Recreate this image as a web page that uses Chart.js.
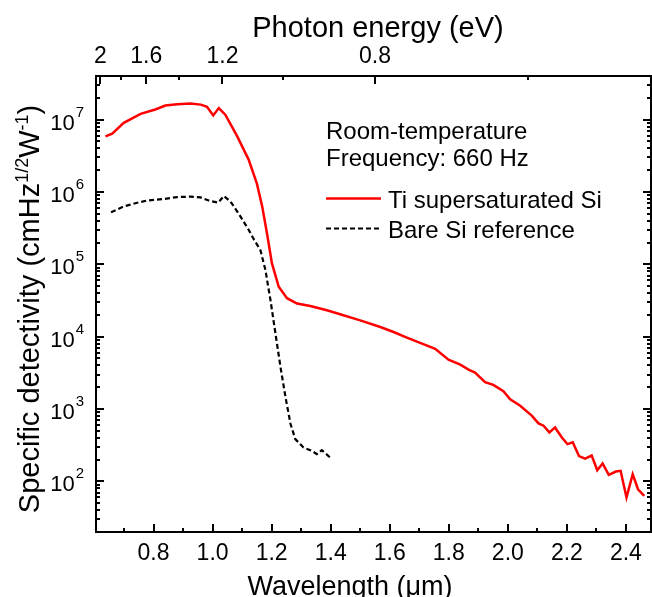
<!DOCTYPE html>
<html>
<head>
<meta charset="utf-8">
<script src="https://cdn.jsdelivr.net/npm/chart.js@4.4.1/dist/chart.umd.min.js"></script>
<style>
  html, body { margin: 0; padding: 0; background: #fff; }
  canvas { display: block; }
</style>
</head>
<body>
<canvas id="detChart" width="652" height="597"></canvas>
<script>
// Ti supersaturated Si (red, solid)
const tiWavelength = [0.637, 0.66, 0.699, 0.756, 0.806, 0.84, 0.88, 0.925, 0.96, 0.981, 1.002, 1.021, 1.043,
  1.083, 1.122, 1.15, 1.168, 1.184, 1.201, 1.224, 1.252, 1.286, 1.331, 1.387, 1.432, 1.5, 1.568, 1.613,
  1.658, 1.703, 1.754, 1.799, 1.839, 1.867, 1.889, 1.923, 1.951, 1.985, 2.008, 2.042, 2.081, 2.104,
  2.121, 2.141, 2.16, 2.183, 2.202, 2.22, 2.241, 2.262, 2.284, 2.303, 2.321, 2.342, 2.366, 2.382,
  2.402, 2.423, 2.441, 2.462];
const tiDetectivity = [5.87e6, 6.4e6, 9.0e6, 1.2e7, 1.38e7, 1.56e7, 1.63e7, 1.67e7, 1.61e7, 1.5e7, 1.14e7, 1.44e7, 1.17e7,
  5.9e6, 2.8e6, 1.3e6, 6.3e5, 2.7e5, 1.03e5, 4.9e4, 3.4e4, 2.87e4, 2.66e4, 2.32e4, 2.04e4, 1.68e4, 1.36e4, 1.16e4,
  9.7e3, 8.2e3, 6.8e3, 4.8e3, 4.1e3, 3.5e3, 3.2e3, 2.35e3, 2.16e3, 1.76e3, 1.36e3, 1.11e3, 810, 634,
  589, 475, 557, 405, 328, 347, 224, 207, 228, 143, 177, 123, 137, 140,
  60, 126, 78, 63];

// Bare Si reference (black, dashed)
const bareWavelength = [0.656, 0.699, 0.745, 0.778, 0.835, 0.88, 0.925, 0.959, 0.987, 1.019, 1.038, 1.06, 1.072,
  1.094, 1.122, 1.14, 1.162, 1.179, 1.196, 1.213, 1.23, 1.247, 1.264, 1.28, 1.308, 1.336, 1.353, 1.37, 1.398];
const bareDetectivity = [5.25e5, 6.3e5, 7.1e5, 7.6e5, 8.0e5, 8.5e5, 8.6e5, 8.4e5, 7.6e5, 7.1e5, 8.8e5, 7.4e5, 6.3e5,
  4.6e5, 3.0e5, 2.2e5, 1.57e5, 8.3e4, 3.2e4, 1.1e4, 3.8e3, 1.45e3, 620, 385, 294, 265, 238, 271, 214];

const wavelengthTicks = [0.8, 1.0, 1.2, 1.4, 1.6, 1.8, 2.0, 2.2, 2.4];
const wavelengthMinor = [0.7, 0.9, 1.1, 1.3, 1.5, 1.7, 1.9, 2.1, 2.3];
const energyTicks = [2, 1.6, 1.2, 0.8];
const energyLabels = ['2', '1.6', '1.2', '0.8'];
const energyMinor = [1.8, 1.4, 1.0, 0.6];
const decadeTicks = [1e2, 1e3, 1e4, 1e5, 1e6, 1e7];
const noteLines = ['Room-temperature', 'Frequency: 660 Hz'];

const FONT = '"Liberation Sans", Arial, sans-serif';

function toPoints(xs, ys) {
  return xs.map((v, i) => ({ x: v, y: ys[i] }));
}

function richText(ctx, parts, size, supSize, rise, cx, baseY) {
  let total = 0;
  parts.forEach(p => {
    ctx.font = (p.sup ? supSize : size) + 'px ' + FONT;
    p.w = ctx.measureText(p.t).width;
    total += p.w;
  });
  let px = cx - total / 2;
  ctx.textAlign = 'left';
  parts.forEach(p => {
    ctx.font = (p.sup ? supSize : size) + 'px ' + FONT;
    ctx.fillText(p.t, px, p.sup ? baseY - rise : baseY);
    px += p.w;
  });
}

const framePlugin = {
  id: 'framePlugin',
  afterDatasetsDraw(chart) {
    const { ctx, chartArea: a, scales: { x, y } } = chart;
    ctx.save();
    ctx.strokeStyle = '#000';
    ctx.fillStyle = '#000';
    ctx.lineWidth = 2;
    ctx.strokeRect(a.left, a.top, a.right - a.left, a.bottom - a.top);

    ctx.beginPath();
    const vtick = (v, len) => {
      const px = Math.round(x.getPixelForValue(v));
      ctx.moveTo(px, a.bottom); ctx.lineTo(px, a.bottom - len);
    };
    wavelengthTicks.forEach(v => vtick(v, 8));
    wavelengthMinor.forEach(v => vtick(v, 4));
    const ttick = (e, len) => {
      const px = Math.round(x.getPixelForValue(1.24 / e));
      ctx.moveTo(px, a.top); ctx.lineTo(px, a.top + len);
    };
    energyTicks.forEach(e => ttick(e, 8));
    energyMinor.forEach(e => ttick(e, 4));
    const htick = (v, len) => {
      const py = Math.round(y.getPixelForValue(v));
      ctx.moveTo(a.left, py); ctx.lineTo(a.left + len, py);
      ctx.moveTo(a.right, py); ctx.lineTo(a.right - len, py);
    };
    for (let d = 10; d <= 1e7; d *= 10) {
      for (let m = 2; m <= 9; m++) {
        const v = d * m;
        if (v >= y.min && v <= y.max) htick(v, 4);
      }
    }
    decadeTicks.forEach(v => htick(v, 8));
    ctx.stroke();

    // bottom tick labels
    ctx.font = '23px ' + FONT;
    ctx.textAlign = 'center';
    ctx.textBaseline = 'alphabetic';
    wavelengthTicks.forEach(v => ctx.fillText(v.toFixed(1), x.getPixelForValue(v), 560));
    // top tick labels
    energyTicks.forEach((e, i) => ctx.fillText(energyLabels[i], x.getPixelForValue(1.24 / e), 63));

    // left tick labels 10^n
    decadeTicks.forEach(v => {
      const py = y.getPixelForValue(v);
      const exp = String(Math.round(Math.log10(v)));
      ctx.font = '15px ' + FONT;
      const we = ctx.measureText(exp).width;
      ctx.textAlign = 'left';
      ctx.fillText(exp, 84 - we, py - 3);
      ctx.font = '22px ' + FONT;
      ctx.textAlign = 'right';
      ctx.fillText('10', 84 - we - 1, py + 10);
    });

    // axis titles
    ctx.textAlign = 'center';
    ctx.font = '27px ' + FONT;
    ctx.fillText('Wavelength (\u03bcm)', 350, 595);
    ctx.font = '29px ' + FONT;
    ctx.fillText('Photon energy (eV)', 378, 37);

    ctx.save();
    ctx.translate(39, 309);
    ctx.rotate(-Math.PI / 2);
    richText(ctx, [
      { t: 'Specific detectivity (cmHz' }, { t: '1/2', sup: true },
      { t: 'W' }, { t: '-1', sup: true }, { t: ')' }
    ], 29, 18, 11, 0, 0);
    ctx.restore();

    // notes and legend
    ctx.font = '24px ' + FONT;
    ctx.textAlign = 'left';
    ctx.fillText(noteLines[0], 326, 139);
    ctx.fillText(noteLines[1], 326, 166);
    chart.data.datasets.forEach((ds, i) => {
      const ly = [198.5, 228.5][i];
      ctx.save();
      ctx.strokeStyle = ds.borderColor;
      ctx.lineWidth = ds.borderWidth;
      ctx.setLineDash(ds.borderDash || []);
      ctx.beginPath();
      ctx.moveTo(326, ly); ctx.lineTo(381, ly);
      ctx.stroke();
      ctx.restore();
      ctx.fillText(ds.label, 388, ly + 9.5);
    });
    ctx.restore();
  }
};

new Chart(document.getElementById('detChart'), {
  type: 'line',
  data: {
    datasets: [
      {
        label: 'Ti supersaturated Si',
        data: toPoints(tiWavelength, tiDetectivity),
        borderColor: '#ff0000',
        borderWidth: 2.5,
        pointRadius: 0,
        tension: 0
      },
      {
        label: 'Bare Si reference',
        data: toPoints(bareWavelength, bareDetectivity),
        borderColor: '#000000',
        borderWidth: 2.2,
        borderDash: [5, 3],
        pointRadius: 0,
        tension: 0
      }
    ]
  },
  options: {
    responsive: false,
    animation: false,
    devicePixelRatio: 1,
    layout: { padding: { left: 96, top: 76, right: 1, bottom: 65 } },
    plugins: { legend: { display: false }, tooltip: { enabled: false } },
    scales: {
      x: { type: 'linear', min: 0.605, max: 2.485, display: false },
      y: { type: 'logarithmic', min: 20, max: 4e7, display: false }
    }
  },
  plugins: [framePlugin]
});
</script>
</body>
</html>
